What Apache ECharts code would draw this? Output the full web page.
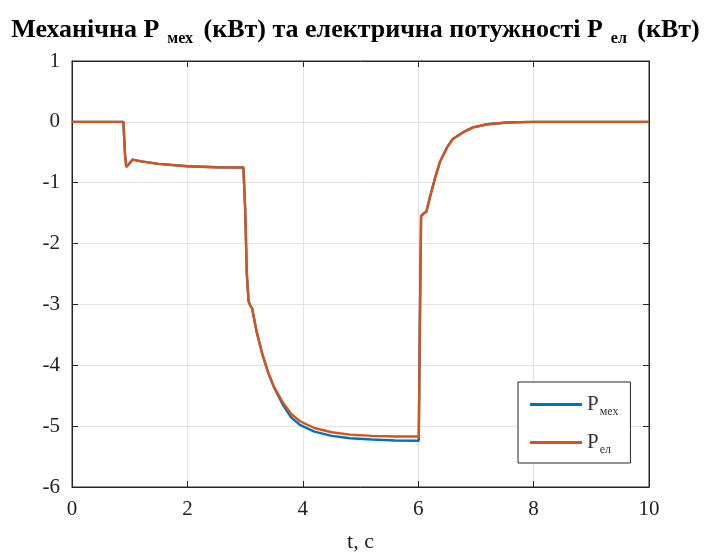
<!DOCTYPE html>
<html>
<head>
<meta charset="utf-8">
<script src="https://cdn.jsdelivr.net/npm/echarts@6/dist/echarts.min.js"></script>
<style>
  html, body { margin: 0; padding: 0; background: #fff; }
  #chart { width: 711px; height: 558px; }
</style>
</head>
<body>
<div id="chart"></div>
<script>
// Time samples, s
const timeMech = [0, 0.89, 0.92, 0.94, 0.98, 1.05, 1.2, 1.5, 2.0, 2.5, 2.97, 3.0, 3.03, 3.06, 3.09, 3.12, 3.2, 3.3, 3.4, 3.5, 3.66, 3.8, 3.95, 4.2, 4.5, 4.82, 5.2, 5.6, 6.01, 6.03, 6.05, 6.1, 6.14, 6.2, 6.29, 6.38, 6.5, 6.6, 6.8, 6.95, 7.2, 7.54, 8.0, 9.0, 10.0];
// Mechanical power, kW
const powerMech = [0, 0, -0.55, -0.74, -0.70, -0.62, -0.65, -0.69, -0.73, -0.745, -0.75, -1.4, -2.5, -2.95, -3.02, -3.06, -3.45, -3.82, -4.12, -4.36, -4.66, -4.86, -4.98, -5.09, -5.16, -5.20, -5.22, -5.235, -5.24, -3.2, -1.55, -1.50, -1.48, -1.25, -0.93, -0.65, -0.42, -0.28, -0.16, -0.09, -0.04, -0.01, 0, 0, 0];
// Electrical power, kW
const timeEl = timeMech;
const powerEl = [0, 0, -0.55, -0.74, -0.70, -0.62, -0.65, -0.69, -0.73, -0.745, -0.75, -1.4, -2.5, -2.95, -3.02, -3.06, -3.45, -3.82, -4.12, -4.35, -4.62, -4.80, -4.92, -5.03, -5.10, -5.14, -5.16, -5.17, -5.17, -3.2, -1.55, -1.50, -1.48, -1.25, -0.93, -0.65, -0.42, -0.28, -0.16, -0.09, -0.04, -0.01, 0, 0, 0];

const xTicks = [0, 2, 4, 6, 8, 10];
const yTicks = [-6, -5, -4, -3, -2, -1, 0, 1];

const serif = '"Liberation Serif", "DejaVu Serif", serif';
const frame = '#262626';

const zip = (t, v) => t.map((x, i) => [x, v[i]]);

const boxAxis = {
  axisLine: { show: true, onZero: false, lineStyle: { color: frame } },
  axisTick: { show: true, inside: true, length: 6, lineStyle: { color: frame } }
};

const chart = echarts.init(document.getElementById('chart'));
chart.setOption({
  animation: false,
  title: {
    left: 'center',
    top: 8,
    text: '{a|Механічна P}{s|мех}{a| (кВт) та електрична потужності P}{s|ел}{a| (кВт)}',
    textStyle: {
      rich: {
        a: { fontFamily: serif, fontWeight: 'bold', fontSize: 26, color: '#000', lineHeight: 34 },
        s: { fontFamily: serif, fontWeight: 'bold', fontSize: 16, color: '#000', padding: [18, 4, 0, 8], lineHeight: 34 }
      }
    }
  },
  grid: {
    left: 72, right: 62, top: 61, bottom: 66,
    show: true, borderColor: frame, borderWidth: 1, backgroundColor: '#fff'
  },
  legend: {
    orient: 'vertical',
    left: 518, top: 382,
    width: 112,
    padding: [9, 12, 7, 12],
    itemGap: 11,
    itemWidth: 52,
    itemHeight: 3,
    icon: 'rect',
    backgroundColor: '#fff',
    borderColor: frame,
    borderWidth: 1,
    borderRadius: 0,
    data: ['Pмех', 'Pел'],
    formatter: function (name) {
      return '{p|P}{s|' + name.slice(1) + '}';
    },
    textStyle: {
      rich: {
        p: { fontFamily: serif, fontSize: 21, color: '#333', lineHeight: 25 },
        s: { fontFamily: serif, fontSize: 12, color: '#333', padding: [15, 0, 0, 1], lineHeight: 25 }
      }
    }
  },
  xAxis: [Object.assign({
    type: 'value',
    min: xTicks[0], max: xTicks[xTicks.length - 1], interval: 2,
    name: 't, c',
    nameLocation: 'middle',
    nameGap: 44,
    nameTextStyle: { fontFamily: serif, fontSize: 22, color: '#222' },
    axisLabel: { fontFamily: serif, fontSize: 21, color: '#222', margin: 12 },
    splitLine: { show: true, lineStyle: { color: '#e3e3e3', width: 1 } }
  }, boxAxis), Object.assign({
    type: 'value', position: 'top',
    min: xTicks[0], max: xTicks[xTicks.length - 1], interval: 2,
    axisLabel: { show: false },
    splitLine: { show: false }
  }, boxAxis)],
  yAxis: [Object.assign({
    type: 'value',
    min: yTicks[0], max: yTicks[yTicks.length - 1], interval: 1,
    axisLabel: { fontFamily: serif, fontSize: 21, color: '#222', margin: 12 },
    splitLine: { show: true, lineStyle: { color: '#e3e3e3', width: 1 } }
  }, boxAxis), Object.assign({
    type: 'value', position: 'right',
    min: yTicks[0], max: yTicks[yTicks.length - 1], interval: 1,
    axisLabel: { show: false },
    splitLine: { show: false }
  }, boxAxis)],
  series: [{
    name: 'Pмех',
    type: 'line',
    data: zip(timeMech, powerMech),
    showSymbol: false,
    color: '#0072BD',
    lineStyle: { width: 2.4, color: '#0072BD' },
    z: 2
  }, {
    name: 'Pел',
    type: 'line',
    data: zip(timeEl, powerEl),
    showSymbol: false,
    color: '#D95319',
    lineStyle: { width: 2.4, color: '#D95319' },
    z: 3
  }]
});
</script>
</body>
</html>
